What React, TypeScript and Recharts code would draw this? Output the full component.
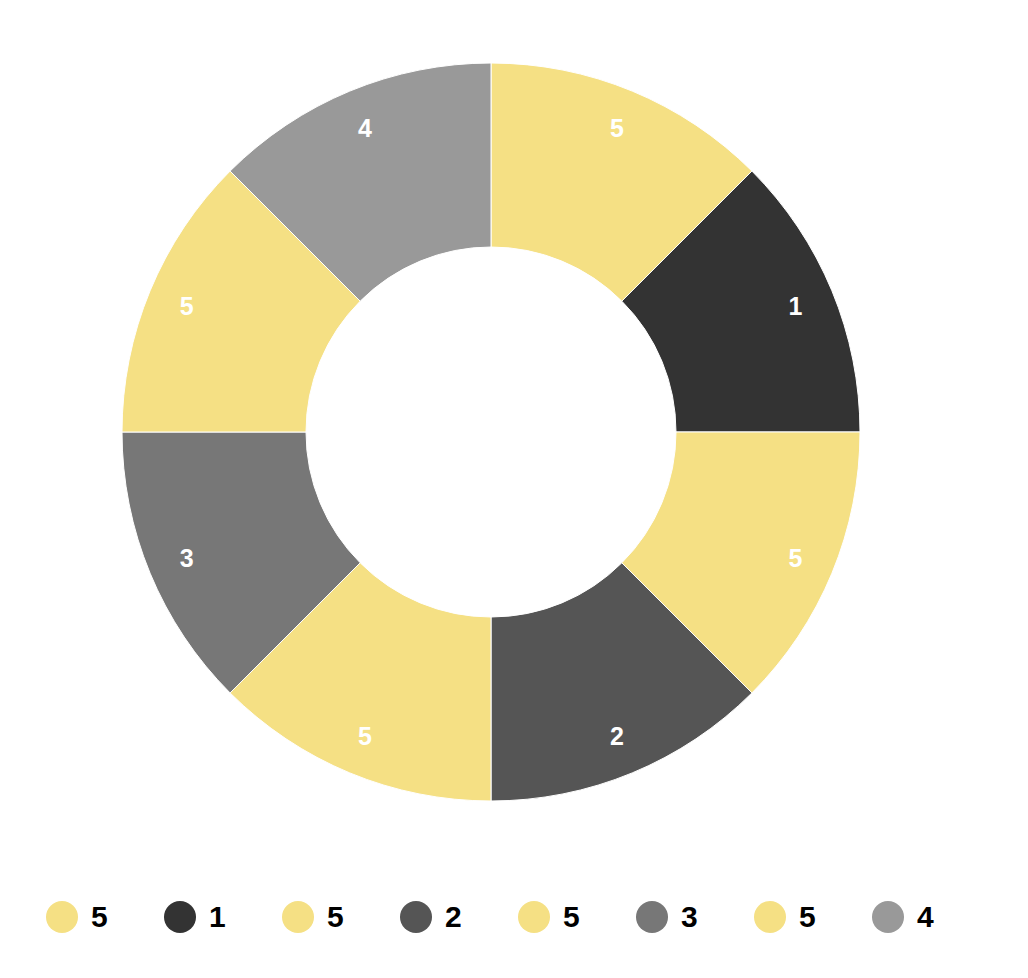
import { PieChart, Pie, Cell, Legend } from "recharts";

const names = ["5", "1", "5", "2", "5", "3", "5", "4"];
const values = [1, 1, 1, 1, 1, 1, 1, 1];
const colors = ["#F5E084", "#333333", "#F5E084", "#555555", "#F5E084", "#777777", "#F5E084", "#999999"];

const data = names.map((name, i) => ({ name, value: values[i] }));

const RADIAN = Math.PI / 180;
const FONT = "'Liberation Sans', Arial, Helvetica, sans-serif";

const renderLabel = (props: any) => {
  const { cx, cy, midAngle, innerRadius, outerRadius, name } = props;
  const r = innerRadius + (outerRadius - innerRadius) * 0.785;
  const x = cx + r * Math.cos(-midAngle * RADIAN);
  const y = cy + r * Math.sin(-midAngle * RADIAN);
  return (
    <text
      x={x}
      y={y}
      fill="#ffffff"
      textAnchor="middle"
      dominantBaseline="central"
      fontFamily={FONT}
      fontWeight="bold"
      fontSize={25}
    >
      {name}
    </text>
  );
};

const renderLegend = () => (
  <div style={{ position: "relative", height: 40, width: 1012 }}>
    {data.map((d, i) => (
      <div
        key={i}
        style={{
          position: "absolute",
          left: 38 + i * 118,
          top: 4,
          display: "flex",
          alignItems: "center",
        }}
      >
        <span
          style={{
            display: "inline-block",
            width: 32,
            height: 32,
            borderRadius: "50%",
            background: colors[i],
          }}
        />
        <span
          style={{
            marginLeft: 13,
            fontFamily: FONT,
            fontWeight: "bold",
            fontSize: 30,
            color: "#000",
            lineHeight: "32px",
          }}
        >
          {d.name}
        </span>
      </div>
    ))}
  </div>
);

export default function App() {
  return (
    <PieChart width={1012} height={962}>
      <Pie
        data={data}
        dataKey="value"
        nameKey="name"
        cx={478}
        cy={419}
        innerRadius={185}
        outerRadius={369}
        startAngle={90}
        endAngle={-270}
        stroke="#ffffff"
        strokeWidth={1}
        label={renderLabel}
        labelLine={false}
        isAnimationActive={false}
      >
        {data.map((_, i) => (
          <Cell key={i} fill={colors[i]} />
        ))}
      </Pie>
      <Legend
        content={renderLegend}
        wrapperStyle={{ position: "absolute", left: 0, top: 889, width: 1012 }}
      />
    </PieChart>
  );
}
